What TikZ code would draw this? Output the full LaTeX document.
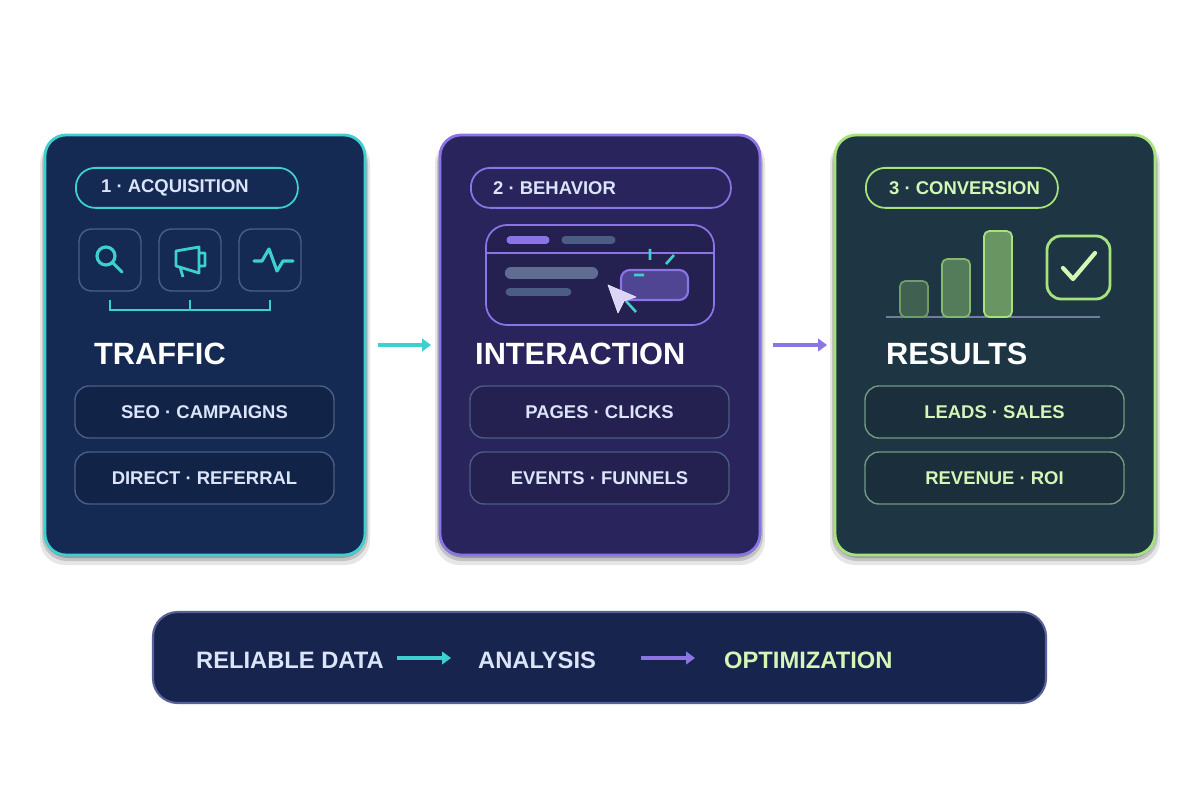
\documentclass[tikz,border=0pt]{standalone}
\usepackage{fontspec}
\setmainfont{Liberation Sans}
\usetikzlibrary{positioning,arrows.meta}
\definecolor{cyanline}{HTML}{3ECFD0}
\definecolor{purpline}{HTML}{8B74E6}
\definecolor{greenline}{HTML}{A6E37A}
\definecolor{panelA}{HTML}{142A52}
\definecolor{panelB}{HTML}{29255C}
\definecolor{panelC}{HTML}{1E3544}
\definecolor{barfill}{HTML}{16244E}
\definecolor{softtext}{HTML}{DCE4FA}
\definecolor{greentext}{HTML}{D4F7B8}
\definecolor{boxline}{HTML}{4C5D85}
\tikzset{
  panel/.style={draw=#1,line width=1.6pt,rounded corners=12pt},
  pill/.style={draw=#1,line width=1pt,rounded corners=11pt,anchor=north west},
  tag/.style={font=\bfseries\fontsize{10.5}{12}\selectfont,text=softtext},
  title/.style={font=\bfseries\fontsize{17.5}{20}\selectfont,text=white,anchor=west},
  item/.style={draw=boxline,fill=black,fill opacity=.12,text opacity=1,line width=.8pt,rounded corners=8pt,font=\bfseries\fontsize{10.5}{12}\selectfont,text=softtext,minimum width=259*0.02cm,minimum height=52*0.02cm},
  icon/.style={draw=boxline,line width=.8pt,rounded corners=7pt,minimum size=62*0.02cm},
  flow/.style={line width=2.2pt,-{Triangle[length=5pt,width=7pt]}},
}
\begin{document}
\begin{tikzpicture}[x=0.02cm,y=-0.02cm]
\useasboundingbox[fill=white] (0,0) rectangle (1200,800);
% soft shadows
\foreach \x in {45,440,835}
  \foreach \r/\o in {10/4,6/6,3/8}
    \fill[black,opacity=0.\o/4,rounded corners=14pt] (\x-\r/2,135+4) rectangle (\x+320+\r/2,555+\r);
% panels
\path[panel=cyanline,fill=panelA] (45,135) rectangle (365,555);
\path[panel=purpline,fill=panelB] (440,135) rectangle (760,555);
\path[panel=greenline,fill=panelC] (835,135) rectangle (1155,555);
\node[pill=cyanline,minimum width=222*0.02cm,minimum height=40*0.02cm] (acq) at (75,167) {};
\node[tag,anchor=west] at (95,188) {1 · ACQUISITION};
\node[pill=purpline,minimum width=260*0.02cm,minimum height=40*0.02cm] (beh) at (470,167) {};
\node[tag,anchor=west] at (487,188) {2 · BEHAVIOR};
\node[pill=greenline,minimum width=192*0.02cm,minimum height=40*0.02cm] (conv) at (865,167) {};
\node[tag,anchor=west,text=greentext] at (883,188) {3 · CONVERSION};
% icons of panel 1
\node[icon] (search) at (110,260) {};
\node[icon] (mega) at (190,260) {};
\node[icon] (pulse) at (270,260) {};
\draw[cyanline,line width=1.8pt] (106,256) circle (9);
\draw[cyanline,line width=1.8pt,line cap=round] (113,263) -- (122,272);
\draw[cyanline,line width=1.6pt,line join=round] (176,251) -- (199,247) -- (199,273) -- (176,266) -- cycle
  (199,253) -- (205,253) -- (205,266) -- (199,266) (180,267) -- (183,277);
\draw[cyanline,line width=1.8pt,line join=round,line cap=round] (254,261) -- (262,261) -- (269,249) -- (277,271) -- (283,261) -- (293,261);
\draw[cyanline,line width=1.6pt] (110,300) -- (110,310) -- (270,310) -- (270,300) (190,300) -- (190,310);
% browser of panel 2
\draw[purpline,fill=black,fill opacity=.12,line width=1pt,rounded corners=12pt] (486,225) rectangle (714,325);
\draw[purpline,line width=1pt] (486,253) -- (714,253);
\draw[purpline,line width=4pt,line cap=round] (510,240) -- (546,240);
\draw[boxline,line width=4pt,line cap=round] (565,240) -- (612,240);
\draw[boxline!90!white,line width=7pt,line cap=round] (511,273) -- (592,273);
\draw[boxline,line width=5pt,line cap=round] (510,292) -- (567,292);
\draw[purpline,fill=purpline!40!panelB,line width=1.2pt,rounded corners=5pt] (621,270) rectangle (688,300);
\draw[cyanline,line width=1.5pt] (634,275) -- (644,275) (650,249) -- (650,260) (666,264) -- (674,255) (626,301) -- (636,312);
\draw[white!80!purpline,fill=white!70!purpline,line join=round] (608,285) -- (636,297) -- (624,301) -- (618,313) -- cycle;
% chart of panel 3
\draw[boxline!80!white,line width=1pt] (886,317) -- (1100,317);
\draw[greenline!60!panelC,fill=greenline!25!panelC,line width=1pt,rounded corners=3pt] (900,281) rectangle (928,317);
\draw[greenline!75!panelC,fill=greenline!40!panelC,line width=1pt,rounded corners=3pt] (942,259) rectangle (970,317);
\draw[greenline,fill=greenline!55!panelC,line width=1pt,rounded corners=3pt] (984,231) rectangle (1012,317);
\draw[greenline,line width=1.6pt,rounded corners=8pt] (1047,236) rectangle (1110,299);
\draw[greentext,line width=2.4pt,line cap=round,line join=round] (1063,268) -- (1073,279) -- (1095,253);
% titles
\node[title] (traffic) at (88,354) {TRAFFIC};
\node[title] (inter) at (469,354) {INTERACTION};
\node[title] (res) at (880,354) {RESULTS};
% items
\node[item] (seo) at (204.5,412) {SEO · CAMPAIGNS};
\node[item] (direct) at (204.5,478) {DIRECT · REFERRAL};
\node[item] (pages) at (599.5,412) {PAGES · CLICKS};
\node[item] (events) at (599.5,478) {EVENTS · FUNNELS};
\node[item,draw=greenline!45!boxline,text=greentext] (leads) at (994.5,412) {LEADS · SALES};
\node[item,draw=greenline!45!boxline,text=greentext] (rev) at (994.5,478) {REVENUE · ROI};
% arrows between panels
\coordinate (a1) at (378,345); \coordinate (a2) at (431,345);
\coordinate (b1) at (773,345); \coordinate (b2) at (827,345);
\draw[flow,cyanline] (a1) -- (a2);
\draw[flow,purpline] (b1) -- (b2);
% bottom bar
\draw[draw=boxline!80!purpline,fill=barfill,line width=1.2pt,rounded corners=14pt] (153,612) rectangle (1046,703);
\node[title,text=softtext,font=\bfseries\fontsize{13.5}{16}\selectfont] (data) at (190,660) {RELIABLE DATA};
\node[title,text=softtext,font=\bfseries\fontsize{13.5}{16}\selectfont] (ana) at (472,660) {ANALYSIS};
\node[title,text=greentext,font=\bfseries\fontsize{13.5}{16}\selectfont] (opt) at (718,660) {OPTIMIZATION};
\coordinate (c1) at (397,658); \coordinate (c2) at (451,658);
\coordinate (d1) at (641,658); \coordinate (d2) at (695,658);
\draw[flow,cyanline] (c1) -- (c2);
\draw[flow,purpline] (d1) -- (d2);
\end{tikzpicture}
\end{document}
